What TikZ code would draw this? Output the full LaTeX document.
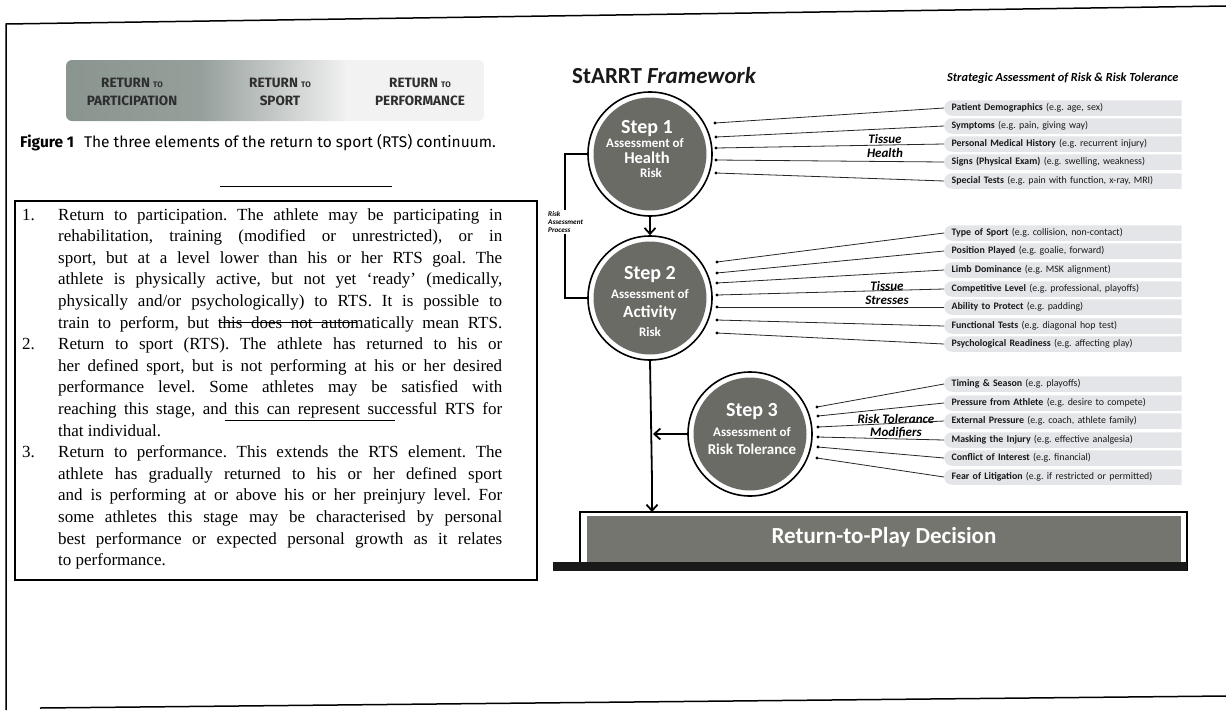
\documentclass[tikz,border=0pt]{standalone}
\usepackage{fontspec}
\setmainfont{Liberation Serif}
\newfontfamily\bfam{Fira Sans}
\newfontfamily\dfam{Carlito}
\usetikzlibrary{arrows.meta,shapes.misc}
\definecolor{circgray}{HTML}{6B6B66}
\definecolor{pillgray}{HTML}{E4E5E8}
\definecolor{boxgray}{HTML}{75756F}
\definecolor{bannerdark}{HTML}{8A9590}
\definecolor{bannertext}{HTML}{2E2E2E}
\frenchspacing
\tikzset{
  pill/.style={rounded rectangle, rounded rectangle right arc=none, fill=pillgray,
    minimum height=15.5pt, text width=224pt, align=left, inner xsep=6pt, inner ysep=0pt,
    font=\dfam\fontsize{9.9}{10.5}\selectfont, anchor=west, text=black!90},
  conn/.style={line width=0.8pt, black!85},
  arr/.style={line width=1.8pt, -{Straight Barb[length=6pt,width=11pt]}},
  stepring/.style={circle, draw=black, line width=1.6pt, fill=white, minimum size=124pt, inner sep=0pt},
  stepcore/.style={circle, fill=circgray, minimum size=113pt, inner sep=0pt},
  steptxt/.style={text=white, font=\dfam\bfseries, inner sep=0pt},
  grouplbl/.style={align=center, font=\dfam\bfseries\itshape\fontsize{13}{13.5}\selectfont, inner sep=0pt},
  bodyline/.style={anchor=base west, inner sep=0pt, font=\fontsize{17}{19}\selectfont},
  bannerlbl/.style={align=center, text=bannertext, font=\bfam\bfseries\fontsize{13.5}{18}\selectfont, inner sep=0pt}
}
\newcommand{\jl}[1]{\makebox[444pt][s]{#1}}
\newcommand{\smc}[1]{{\fontsize{8}{9}\selectfont #1}}
\newcommand{\pilltxt}[2]{\textbf{#1} #2}
\begin{document}
\begin{tikzpicture}[x=1pt,y=-1pt]
\useasboundingbox (0,0) rectangle (1226,710);
% outer frame
\draw[line width=1.5pt] (1226,6) -- (6,24) -- (6,710);
\draw[line width=1.5pt] (40,708) -- (1226,696);

% banner
\begin{scope}
\clip[rounded corners=6pt] (66,60) rectangle (484,121);
\shade[left color=bannerdark, right color=bannerdark!90!white] (66,60) rectangle (200,121);
\shade[left color=bannerdark!90!white, right color=white!94!black] (200,60) rectangle (345,121);
\fill[white!95!black] (345,60) rectangle (484,121);
\end{scope}
\node[bannerlbl] (b1) at (132,92) {RETURN \smc{TO}\\PARTICIPATION};
\node[bannerlbl] (b2) at (280,92) {RETURN \smc{TO}\\SPORT};
\node[bannerlbl] (b3) at (420,92) {RETURN \smc{TO}\\PERFORMANCE};

% caption
\node[anchor=west, inner sep=0pt, font=\bfam\fontsize{15.5}{17}\selectfont] (cap) at (20,143)
  {\textbf{Figure 1}\hspace{10pt}The three elements of the return to sport (RTS) continuum.};
\draw[line width=1pt] (220,186) -- (392,186);

% text box
\draw[line width=1.2pt] (15,201) rectangle (537,580);
\node[bodyline] (n1) at (22,220) {1.};
\node[bodyline] (t1) at (58,220.0) {\jl{Return to participation. The athlete may be participating in}};
\node[bodyline] (t2) at (58,241.6) {\jl{rehabilitation, training (modified or unrestricted), or in}};
\node[bodyline] (t3) at (58,263.2) {\jl{sport, but at a level lower than his or her RTS goal. The}};
\node[bodyline] (t4) at (58,284.8) {\jl{athlete is physically active, but not yet ‘ready’ (medically,}};
\node[bodyline] (t5) at (58,306.4) {\jl{physically and/or psychologically) to RTS. It is possible to}};
\node[bodyline] (t6) at (58,328.0) {\jl{train to perform, but this does not automatically mean RTS.}};
\node[bodyline] (n2) at (22,349.6) {2.};
\node[bodyline] (t7) at (58,349.6) {\jl{Return to sport (RTS). The athlete has returned to his or}};
\node[bodyline] (t8) at (58,371.2) {\jl{her defined sport, but is not performing at his or her desired}};
\node[bodyline] (t9) at (58,392.8) {\jl{performance level. Some athletes may be satisfied with}};
\node[bodyline] (t10) at (58,414.4) {\jl{reaching this stage, and this can represent successful RTS for}};
\node[bodyline] (t11) at (58,436.0) {that individual.};
\node[bodyline] (n3) at (22,457.6) {3.};
\node[bodyline] (t12) at (58,457.6) {\jl{Return to performance. This extends the RTS element. The}};
\node[bodyline] (t13) at (58,479.2) {\jl{athlete has gradually returned to his or her defined sport}};
\node[bodyline] (t14) at (58,500.8) {\jl{and is performing at or above his or her preinjury level. For}};
\node[bodyline] (t15) at (58,522.4) {\jl{some athletes this stage may be characterised by personal}};
\node[bodyline] (t16) at (58,544.0) {\jl{best performance or expected personal growth as it relates}};
\node[bodyline] (t17) at (58,565.6) {to performance.};
\draw[line width=1pt] (220,322) -- (357,322);
\draw[line width=1pt] (225,420) -- (395,420);

% ---------- StARRT framework ----------
\node[anchor=west, inner sep=0pt, text=black!90, font=\dfam\bfseries\fontsize{23}{25}\selectfont] (title) at (572,76)
  {StARRT \itshape Framework};
\node[anchor=west, inner sep=0pt, font=\dfam\bfseries\itshape\fontsize{12.3}{14}\selectfont] (sub) at (947,78)
  {Strategic Assessment of Risk \& Risk Tolerance};

% circles
\node[stepring] (s1) at (650,154) {};
\node[stepcore] (s1c) at (s1) {};
\node[stepring] (s2) at (650,298) {};
\node[stepcore] (s2c) at (s2) {};
\node[stepring] (s3) at (750,434) {};
\node[stepcore] (s3c) at (s3) {};

\node[steptxt, font=\dfam\bfseries\fontsize{20}{22}\selectfont] (s1a) at (647,129) {Step 1};
\node[steptxt, font=\dfam\bfseries\fontsize{13}{14}\selectfont] (s1b) at (645,143) {Assessment of};
\node[steptxt, font=\dfam\bfseries\fontsize{16.5}{18}\selectfont] (s1d) at (647,158) {Health};
\node[steptxt, font=\dfam\bfseries\fontsize{13}{14}\selectfont] (s1e) at (651,173) {Risk};

\node[steptxt, font=\dfam\bfseries\fontsize{20}{22}\selectfont] (s2a) at (650,275) {Step 2};
\node[steptxt, font=\dfam\bfseries\fontsize{13}{14}\selectfont] (s2b) at (650,294) {Assessment of};
\node[steptxt, font=\dfam\bfseries\fontsize{17}{19}\selectfont] (s2d) at (650,313) {Activity};
\node[steptxt, font=\dfam\bfseries\fontsize{13}{14}\selectfont] (s2e) at (650,332) {Risk};

\node[steptxt, font=\dfam\bfseries\fontsize{20}{22}\selectfont] (s3a) at (752,412) {Step 3};
\node[steptxt, font=\dfam\bfseries\fontsize{13}{14}\selectfont] (s3b) at (752,432) {Assessment of};
\node[steptxt, font=\dfam\bfseries\fontsize{15}{16}\selectfont] (s3d) at (752,449) {Risk Tolerance};

% decision box
\node[draw=black, line width=1.2pt, fill=white, minimum width=607pt, minimum height=58pt, inner sep=0pt] (dec) at (883.5,541) {};
\fill[boxgray] (587,516) rectangle (1181,562);
\fill[black!90] (553,562) rectangle (1187,571);
\node[text=white, inner sep=0pt, font=\dfam\bfseries\fontsize{23}{25}\selectfont] (dect) at (884,537) {Return-to-Play Decision};

% flow arrows
\draw[arr] (s1.south) -- (s2.north);
\coordinate (j2) at (652,512);
\draw[line width=1.8pt] (s2.south) -- (652,480);
\draw[arr] (652,480) -- (j2);
\coordinate (j3) at (653,434);
\draw[arr] (s3.west) -- (j3);

% risk assessment bracket
\draw[line width=1.6pt] (s1.west) -- ++(-22,0) |- (s2.west);
\node[anchor=west, fill=white, inner sep=1pt, align=left, font=\dfam\bfseries\itshape\fontsize{7.2}{8}\selectfont] (rap) at (547,222) {Risk\\Assessment\\Process};

% group labels
\node[grouplbl] (g1) at (885,146) {Tissue\\Health};
\node[grouplbl] (g2) at (887,293) {Tissue\\Stresses};
\node[grouplbl] (g3) at (896,426) {Risk Tolerance\\Modifiers};

% pills
\node[pill] (p1) at (944,108) {\pilltxt{Patient Demographics}{(e.g. age, sex)}};
\node[pill] (p2) at (944,126) {\pilltxt{Symptoms}{(e.g. pain, giving way)}};
\node[pill] (p3) at (944,144) {\pilltxt{Personal Medical History}{(e.g. recurrent injury)}};
\node[pill] (p4) at (944,162) {\pilltxt{Signs (Physical Exam)}{(e.g. swelling, weakness)}};
\node[pill] (p5) at (944,181) {\pilltxt{Special Tests}{(e.g. pain with function, x-ray, MRI)}};
\node[pill] (p6) at (944,233) {\pilltxt{Type of Sport}{(e.g. collision, non-contact)}};
\node[pill] (p7) at (944,251) {\pilltxt{Position Played}{(e.g. goalie, forward)}};
\node[pill] (p8) at (944,270) {\pilltxt{Limb Dominance}{(e.g. MSK alignment)}};
\node[pill] (p9) at (944,289) {\pilltxt{Competitive Level}{(e.g. professional, playoffs)}};
\node[pill] (p10) at (944,307) {\pilltxt{Ability to Protect}{(e.g. padding)}};
\node[pill] (p11) at (944,326) {\pilltxt{Functional Tests}{(e.g. diagonal hop test)}};
\node[pill] (p12) at (944,344) {\pilltxt{Psychological Readiness}{(e.g. affecting play)}};
\node[pill] (p13) at (944,384) {\pilltxt{Timing \& Season}{(e.g. playoffs)}};
\node[pill] (p14) at (944,403) {\pilltxt{Pressure from Athlete}{(e.g. desire to compete)}};
\node[pill] (p15) at (944,421) {\pilltxt{External Pressure}{(e.g. coach, athlete family)}};
\node[pill] (p16) at (944,440) {\pilltxt{Masking the Injury}{(e.g. effective analgesia)}};
\node[pill] (p17) at (944,458) {\pilltxt{Conflict of Interest}{(e.g. financial)}};
\node[pill] (p18) at (944,477) {\pilltxt{Fear of Litigation}{(e.g. if restricted or permitted)}};

% connector dots
\coordinate (d1) at (715,123);
\coordinate (d2) at (716,137);
\coordinate (d3) at (716,148);
\coordinate (d4) at (716,160);
\coordinate (d5) at (716,173);
\coordinate (d6) at (717,262);
\coordinate (d7) at (717,273);
\coordinate (d8) at (717,283);
\coordinate (d9) at (717,295);
\coordinate (d10) at (717,307);
\coordinate (d11) at (717,320);
\coordinate (d12) at (717,333);
\coordinate (d13) at (817,407);
\coordinate (d14) at (818,416);
\coordinate (d15) at (818,427);
\coordinate (d16) at (818,437);
\coordinate (d17) at (818,447);
\coordinate (d18) at (817,458);
\foreach \i in {1,...,18}{
  \draw[conn] (d\i) -- (p\i.west);
  \fill[black] (d\i) circle (1.7pt);
}
\end{tikzpicture}
\end{document}
